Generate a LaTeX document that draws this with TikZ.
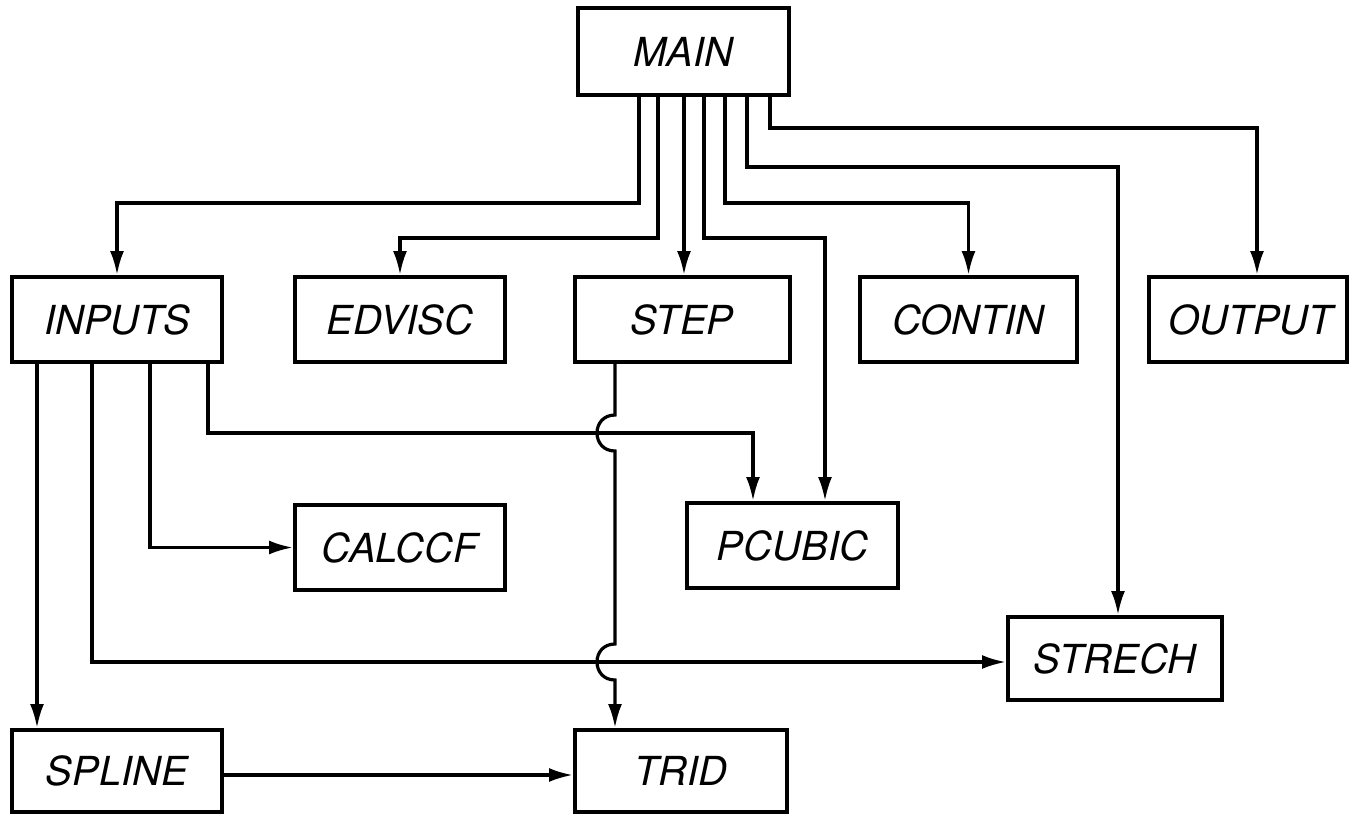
\documentclass[tikz,border=0pt]{standalone}
\usepackage{fontspec}
\setmainfont{TeX Gyre Heros}
\usetikzlibrary{arrows.meta}
\tikzset{
  box/.style={draw, line width=4pt, minimum width=211pt, minimum height=85pt,
    inner sep=0pt, font=\itshape\fontsize{40}{42}\selectfont},
  conn/.style={line width=3.2pt, line join=miter},
  arr/.style={conn, -{Latex[length=24pt,width=14pt]}}
}
\begin{document}
\begin{tikzpicture}[x=1pt,y=-1pt]
\useasboundingbox[fill=white] (0,0) rectangle (1350,814);
% nodes
\node[box, minimum height=87pt] (MAIN) at (683,51.5) {MAIN};
\node[box, minimum width=210pt] (INPUTS) at (117,319.5) {INPUTS};
\node[box, minimum width=210pt] (EDVISC) at (400,319.5) {EDVISC};
\node[box, minimum width=215pt] (STEP) at (682,319.5) {STEP};
\node[box, minimum width=217pt] (CONTIN) at (968.5,319.5) {CONTIN};
\node[box, minimum width=198pt] (OUTPUT) at (1248,319.5) {\hspace*{6pt}OUTPUT};
\node[box, minimum width=210pt] (CALCCF) at (400,547.5) {CALCCF};
\node[box, minimum width=211pt] (PCUBIC) at (792.5,545.5) {PCUBIC};
\node[box, minimum width=214pt, minimum height=83pt] (STRECH) at (1115,658.5) {STRECH};
\node[box, minimum width=210pt, minimum height=82pt] (SPLINE) at (117,771) {SPLINE};
\node[box, minimum width=212pt, minimum height=82pt] (TRID) at (681,771) {TRID};
% connectors from MAIN
\draw[arr] (MAIN.south -| 639,0) |- (INPUTS.north |- 0,203) -- (INPUTS.north);
\draw[arr] (MAIN.south -| 658,0) |- (EDVISC.north |- 0,238) -- (EDVISC.north);
\draw[arr] (MAIN.south -| 684,0) -- (STEP.north -| 684,0);
\draw[arr] (MAIN.south -| 704,0) |- (825,238) -- (PCUBIC.north -| 825,0);
\draw[arr] (MAIN.south -| 725,0) |- (CONTIN.north |- 0,203) -- (CONTIN.north);
\draw[arr] (MAIN.south -| 747,0) |- (1118,167) -- (STRECH.north -| 1118,0);
\draw[arr] (MAIN.south -| 770,0) |- (1257,128) -- (OUTPUT.north -| 1257,0);
% connectors from INPUTS
\draw[arr] (INPUTS.south -| 37,0) -- (SPLINE.north -| 37,0);
\draw[arr] (INPUTS.south -| 92,0) |- (STRECH.west |- 0,662);
\draw[arr] (INPUTS.south -| 150,0) |- (CALCCF.west);
\draw[arr] (INPUTS.south -| 208,0) |- (753,433) -- (PCUBIC.north -| 753,0);
% STEP to TRID with hops
\draw[arr] (STEP.south -| 615,0) -- (615,415)
  .. controls (591,415) and (591,451) .. (615,451)
  -- (615,644)
  .. controls (591,644) and (591,680) .. (615,680)
  -- (TRID.north -| 615,0);
% SPLINE to TRID
\draw[arr] (SPLINE.east |- 0,775) -- (TRID.west |- 0,775);
\end{tikzpicture}
\end{document}
